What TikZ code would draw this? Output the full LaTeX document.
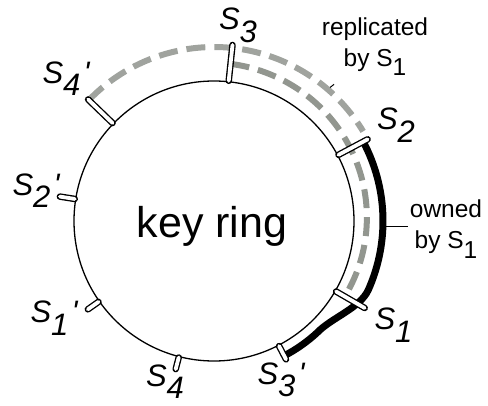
\documentclass[tikz,border=0pt]{standalone}
\usepackage{fontspec}
\setmainfont{Liberation Sans}
\usetikzlibrary{calc}

\definecolor{repgray}{RGB}{160,163,158}
\definecolor{repdark}{RGB}{146,150,143}
\newcommand{\srv}[1]{S\raisebox{-0.4em}{#1}}
\newcommand{\srvp}[1]{S\raisebox{-0.4em}{#1}\hspace{0.1em}\textquotesingle}

\tikzset{
  srvlabel/.style={inner sep=0, font=\fontsize{31}{31}\selectfont\itshape},
  note/.style={inner sep=2, align=center, font=\fontsize{24.5}{31}\selectfont},
  ownarc/.style={line width=7},
  reparc/.style={line width=6, dash pattern=on 19 off 9},
}

\begin{document}
\begin{tikzpicture}[x=1pt, y=1pt]
\useasboundingbox (-214,-184) rectangle (274,221);
% the ring
\draw[line width=1.3] (0,0) circle[radius=140];
\node[inner sep=0, font=\fontsize{43}{43}\selectfont] (ring) at (-2,-5.5) {key ring};
% replicas and owned range
\draw[reparc, repgray] (136:174) arc[start angle=136, end angle=31, radius=174];
\draw[reparc, repdark] plot[domain=84:-30, samples=40, smooth] (\x:{151+7*(\x+30)/114});
\draw[ownarc] (28:169) arc[start angle=28, end angle=-24, radius=169]
   .. controls +(-114:20) and +(46:20) .. (-47:152)
   arc[start angle=-47, end angle=-62.5, radius=152];
% servers on the ring
\foreach \a/\o in {84/177, 136/175, 28/174, -30/174, -62.5/156, -104.5/153, -145/154, 171/156} {
 \draw[line width=6.5, line cap=round] (\a:141) -- (\a:\o);
 \draw[white, line width=3.8, line cap=round] (\a:141) -- (\a:\o);
}
\node[srvlabel] (s3) at (24,195.5) {\srv{3}};
\node[srvlabel] (s4p) at (-148,142.5) {\srvp{4}};
\node[srvlabel] (s2) at (182,96) {\srv{2}};
\node[srvlabel] (s2p) at (-178,30.5) {\srvp{2}};
\node[srvlabel] (s1p) at (-160,-97) {\srvp{1}};
\node[srvlabel] (s4) at (-49,-160.5) {\srv{4}};
\node[srvlabel] (s3p) at (67,-159) {\srvp{3}};
\node[srvlabel] (s1) at (179.5,-104) {\srv{1}};
% notes
\node[note] (rep) at (161,174.5) {replicated\\by S\raisebox{-0.38em}{1}};
\node[note] (own) at (232,-8) {owned\\by S\raisebox{-0.38em}{1}};
\coordinate (reppt) at (49:177);
\coordinate (ownpt) at (-1.7:172);
\draw[line width=1] (reppt) -- ++(38:5);
\draw[line width=1] (ownpt) -- (ownpt -| own.west);
\end{tikzpicture}
\end{document}
